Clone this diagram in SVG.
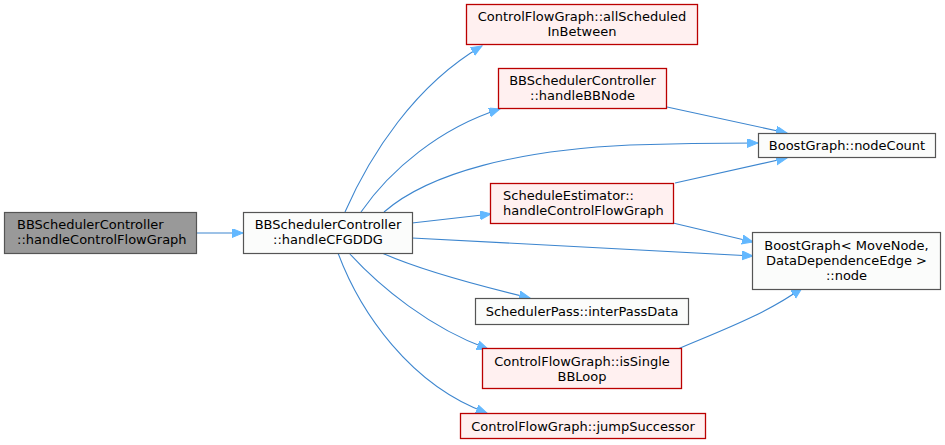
<svg xmlns="http://www.w3.org/2000/svg" width="945" height="445" viewBox="0 0 945 445">
<style>
text{font-family:"DejaVu Sans",sans-serif;font-size:13px;fill:#000}
.c{text-anchor:middle}
.s{text-anchor:start}
.g{fill:#999999;stroke:#555555;stroke-width:1.2}
.w{fill:#fbfcfb;stroke:#555555;stroke-width:1.2}
.r{fill:#fff0f0;stroke:#bb0000;stroke-width:1.3}
.e{fill:none;stroke:#3d86cf;stroke-width:1.1;marker-end:url(#ah)}
</style>
<defs>
<marker id="ah" markerUnits="userSpaceOnUse" markerWidth="14" markerHeight="12" refX="11" refY="4.5" orient="auto">
<path d="M0,0 L11,4.5 L0,9 z" fill="#63b8ff" stroke="#63b8ff" stroke-width="1"/>
</marker>
</defs>
<g id="edges">
<path class="e" d="M197,233 L243,233"/>
<path class="e" d="M345,212 C370,155 415,85 482,46"/>
<path class="e" d="M361,212 C390,170 440,128 500,109"/>
<path class="e" d="M384,212 C430,172 520,150 630,145 C690,143 730,143 758,143"/>
<path class="e" d="M412,223 L491,214"/>
<path class="e" d="M412,238 L753,256"/>
<path class="e" d="M382,253 C420,270 480,286 530,298"/>
<path class="e" d="M349,253 C380,287 430,328 488,349"/>
<path class="e" d="M338,253 C360,312 410,385 487,413"/>
<path class="e" d="M667,107 L787,133"/>
<path class="e" d="M675,183 L787,158"/>
<path class="e" d="M673,223 L753,242"/>
<path class="e" d="M678,349 C715,333 765,315 802,288"/>
</g>
<g id="n1"><rect class="g" x="4.5" y="212.5" width="192" height="41"/><text class="s" x="17" y="229">BBSchedulerController</text><text class="s" x="17" y="244">::handleControlFlowGraph</text></g>
<g id="n2"><rect class="w" x="243.5" y="212.5" width="169" height="41"/><text class="c" x="328" y="229">BBSchedulerController</text><text class="c" x="328" y="244">::handleCFGDDG</text></g>
<g id="n3"><rect class="r" x="466.5" y="4.5" width="231" height="40"/><text class="c" x="582" y="21">ControlFlowGraph::allScheduled</text><text class="c" x="582" y="36">InBetween</text></g>
<g id="n4"><rect class="r" x="498.5" y="68.5" width="168" height="40"/><text class="c" x="582.5" y="85">BBSchedulerController</text><text class="c" x="582.5" y="100">::handleBBNode</text></g>
<g id="n5"><rect class="w" x="758.5" y="133.5" width="177" height="24"/><text class="c" x="847" y="150">BoostGraph::nodeCount</text></g>
<g id="n6"><rect class="r" x="490.5" y="183.5" width="183" height="40"/><text class="s" x="503" y="200">ScheduleEstimator::</text><text class="s" x="503" y="215">handleControlFlowGraph</text></g>
<g id="n7"><rect class="w" x="752.5" y="232.5" width="188" height="57"/><text class="c" x="846.5" y="250">BoostGraph&lt; MoveNode,</text><text class="c" x="846.5" y="265">DataDependenceEdge &gt;</text><text class="c" x="846.5" y="280">::node</text></g>
<g id="n8"><rect class="w" x="475.5" y="298.5" width="213" height="26"/><text class="c" x="582" y="316">SchedulerPass::interPassData</text></g>
<g id="n9"><rect class="r" x="482.5" y="348.5" width="199" height="40"/><text class="c" x="582" y="366">ControlFlowGraph::isSingle</text><text class="c" x="582" y="381">BBLoop</text></g>
<g id="n10"><rect class="r" x="460.5" y="413.5" width="245" height="25"/><text class="c" x="583" y="431">ControlFlowGraph::jumpSuccessor</text></g>
</svg>
